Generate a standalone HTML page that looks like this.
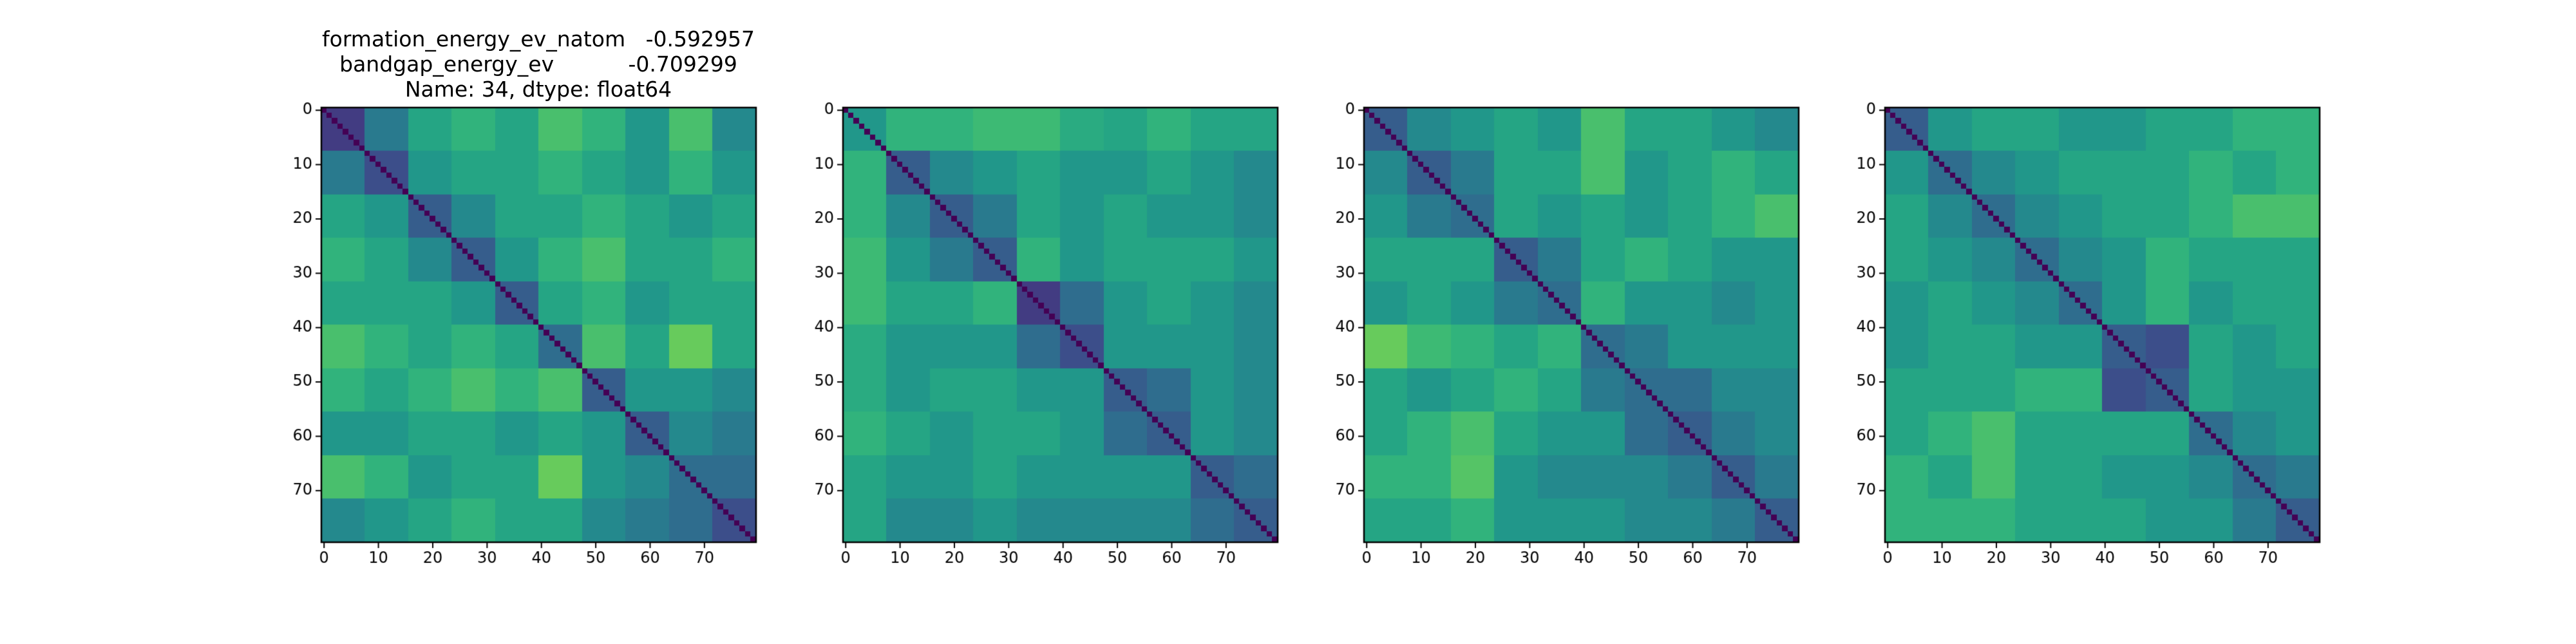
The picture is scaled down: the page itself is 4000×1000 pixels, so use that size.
<!DOCTYPE html>
<html><head><meta charset="utf-8"><style>
html,body{margin:0;padding:0;background:#fff;}
#fig{position:relative;width:4000px;height:1000px;overflow:hidden;font-family:"DejaVu Sans","Liberation Sans",sans-serif;}
canvas{position:absolute;left:0;top:0;}
.title{position:absolute;left:436px;width:800px;text-align:center;font-size:33px;line-height:39px;top:41px;white-space:pre;color:#000;}
</style></head><body>
<div id="fig">
<canvas id="cv" width="4000" height="1000"></canvas>
<div class="title">formation_energy_ev_natom   -0.592957
bandgap_energy_ev           -0.709299
Name: 34, dtype: float64</div>
</div>
<script>
// Coarse block values (10x10 blocks of 8x8 cells)
const panel1 = [
[.15,.35,.5,.55,.5,.6,.55,.45,.6,.4],
[.35,.2,.45,.5,.5,.55,.5,.45,.55,.45],
[.5,.45,.25,.4,.5,.5,.55,.5,.45,.5],
[.55,.5,.4,.25,.45,.55,.6,.5,.5,.55],
[.5,.5,.5,.45,.25,.5,.55,.45,.5,.5],
[.6,.55,.5,.55,.5,.3,.6,.5,.65,.5],
[.55,.5,.55,.6,.55,.6,.25,.45,.45,.4],
[.45,.45,.5,.5,.45,.5,.45,.25,.4,.35],
[.6,.55,.45,.5,.5,.65,.45,.4,.3,.3],
[.4,.45,.5,.55,.5,.5,.4,.35,.3,.2]];
const panel2 = [
[.45,.55,.55,.58,.58,.52,.5,.55,.5,.5],
[.55,.25,.4,.45,.5,.45,.45,.5,.45,.4],
[.55,.4,.25,.35,.5,.45,.5,.45,.45,.4],
[.58,.45,.35,.25,.55,.45,.5,.5,.5,.45],
[.58,.5,.5,.55,.15,.3,.45,.5,.45,.4],
[.52,.45,.45,.45,.3,.2,.45,.45,.45,.4],
[.52,.45,.5,.5,.45,.45,.25,.3,.45,.4],
[.55,.5,.45,.5,.5,.45,.3,.25,.45,.4],
[.5,.45,.45,.5,.45,.45,.45,.45,.25,.3],
[.5,.4,.4,.45,.4,.4,.4,.4,.3,.25]];
const panel3 = [
[.25,.4,.45,.5,.45,.6,.5,.5,.45,.4],
[.4,.25,.35,.5,.5,.6,.45,.5,.55,.5],
[.45,.35,.3,.5,.45,.5,.45,.5,.55,.6],
[.5,.5,.5,.25,.35,.5,.55,.5,.45,.45],
[.45,.5,.45,.35,.3,.55,.45,.45,.4,.45],
[.65,.58,.55,.5,.55,.3,.35,.45,.45,.45],
[.5,.45,.5,.55,.5,.35,.3,.3,.4,.4],
[.5,.55,.6,.5,.45,.45,.3,.25,.35,.4],
[.55,.55,.62,.45,.4,.4,.4,.35,.25,.35],
[.5,.5,.55,.45,.45,.45,.4,.4,.35,.25]];
const panel4 = [
[.25,.45,.5,.5,.45,.45,.5,.5,.55,.55],
[.45,.3,.4,.45,.5,.5,.5,.55,.5,.55],
[.5,.4,.3,.4,.45,.5,.5,.55,.6,.6],
[.5,.45,.4,.3,.4,.45,.55,.5,.5,.5],
[.45,.5,.45,.4,.3,.45,.55,.45,.5,.5],
[.45,.5,.5,.45,.45,.25,.2,.5,.45,.5],
[.5,.5,.5,.55,.55,.2,.25,.5,.45,.45],
[.5,.55,.6,.5,.5,.5,.5,.3,.4,.45],
[.55,.5,.6,.5,.5,.45,.45,.4,.3,.35],
[.55,.55,.55,.5,.5,.5,.45,.45,.35,.25]];
const panels = [panel1, panel2, panel3, panel4];
const nCells = 80;
const tickValues = [0,10,20,30,40,50,60,70];
const tickLabels = ["0","10","20","30","40","50","60","70"];

const axLefts = [499,1309,2118,2927], axTop = 167, axSize = 675;
const cell = axSize / nCells;
const vmin = 0, vmax = 0.85;
const stops = [[68,1,84],[72,40,120],[62,74,137],[49,104,142],[38,130,142],[31,158,137],[53,183,121],[110,206,88],[181,222,43],[253,231,37]];
function viridis(t){t=Math.max(0,Math.min(1,t));const p=t*(stops.length-1);const i=Math.min(stops.length-2,Math.floor(p));const f=p-i;
const a=stops[i],b=stops[i+1];return `rgb(${Math.round(a[0]+(b[0]-a[0])*f)},${Math.round(a[1]+(b[1]-a[1])*f)},${Math.round(a[2]+(b[2]-a[2])*f)})`;}
function xScale(k,v){return axLefts[k]+v*cell;}
function yScale(v){return axTop+v*cell;}
const ctx = document.getElementById('cv').getContext('2d');
panels.forEach((m,k)=>{
  for(let i=0;i<nCells;i++)for(let j=0;j<nCells;j++){
    const v = i===j ? 0 : m[Math.floor(i/8)][Math.floor(j/8)];
    ctx.fillStyle = viridis((v-vmin)/(vmax-vmin));
    const x0=Math.floor(xScale(k,j)),x1=Math.ceil(xScale(k,j+1)),y0=Math.floor(yScale(i)),y1=Math.ceil(yScale(i+1));
    ctx.fillRect(x0,y0,x1-x0,y1-y0);
  }
  ctx.strokeStyle='#000';ctx.lineWidth=2.5;
  ctx.strokeRect(axLefts[k],axTop,axSize,axSize);
  ctx.fillStyle='#000';ctx.font='24px "DejaVu Sans","Liberation Sans",sans-serif';
  ctx.lineWidth=2;
  tickValues.forEach((t,n)=>{
    const x=xScale(k,t+0.5), y=yScale(t+0.5);
    ctx.beginPath();ctx.moveTo(x,axTop+axSize);ctx.lineTo(x,axTop+axSize+9);ctx.stroke();
    ctx.beginPath();ctx.moveTo(axLefts[k],y);ctx.lineTo(axLefts[k]-9,y);ctx.stroke();
    ctx.textAlign='center';ctx.textBaseline='top';ctx.fillText(tickLabels[n],x,axTop+axSize+14);
    ctx.textAlign='right';ctx.textBaseline='middle';ctx.fillText(tickLabels[n],axLefts[k]-14,y);
  });
});
</script>
</body></html>
